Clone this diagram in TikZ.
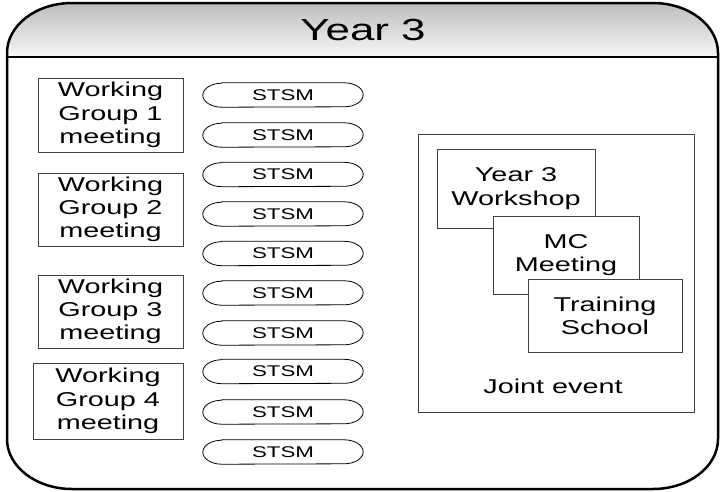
\documentclass[tikz,border=0pt]{standalone}
\usepackage{fontspec}
\setmainfont{Liberation Sans}[FakeStretch=1.44]
\usetikzlibrary{calc}

\begin{document}
\begin{tikzpicture}[x=1pt,y=1pt,
  box/.style={draw=black!75, line width=0.9pt, fill=white, align=center,
              inner sep=0pt, font=\fontsize{20}{23.3}\selectfont},
  pill/.style={inner sep=0pt, minimum width=160pt, minimum height=24pt,
               font=\fontsize{15.5}{18}\selectfont},
  pilledge/.style={draw=black, line width=0.8pt},
  frame/.style={draw=black, line width=2.5pt, line join=round},
]
\useasboundingbox (0,0) rectangle (721,-491);

% header band with grey gradient
\shade[top color=black!26, bottom color=black!3]
  (7,-57) -- (7,-53) arc[start angle=180,end angle=90,x radius=65,y radius=50]
  -- (653,-3) arc[start angle=90,end angle=0,x radius=65,y radius=50]
  -- (718,-57) -- cycle;
\draw[line width=2pt] (7,-57) -- (718,-57);

% outer container
\draw[frame]
  (7,-53) arc[start angle=180,end angle=90,x radius=65,y radius=50]
  -- (653,-3) arc[start angle=90,end angle=0,x radius=65,y radius=50]
  -- (718,-439) arc[start angle=0,end angle=-90,x radius=65,y radius=50]
  -- (72,-489) arc[start angle=270,end angle=180,x radius=65,y radius=50]
  -- cycle;

\node[font=\fontsize{30.5}{36}\selectfont] (title) at (363,-29.5) {Year 3};

% working group meetings
\node[box, minimum width=145pt, minimum height=74pt] (wg1) at (110.5,-115)   {Working\\Group 1\\meeting};
\node[box, minimum width=145pt, minimum height=73pt] (wg2) at (110.5,-209.5) {Working\\Group 2\\meeting};
\node[box, minimum width=145pt, minimum height=73pt] (wg3) at (110.5,-311.5) {Working\\Group 3\\meeting};
\node[box, minimum width=150pt, minimum height=76pt] (wg4) at (108,-401)     {Working\\Group 4\\meeting};

% short term scientific missions
\foreach \i/\y in {1/95,2/135,3/174.5,4/214,5/253.5,6/293,7/333,8/371.5,9/412,10/452} {
  \node[pill] (s\i) at (283,-\y) {STSM};
  \draw[pilledge]
    ($(s\i.north west)+(19,0)$) -- ($(s\i.north east)+(-19,0)$)
    arc[start angle=90,end angle=-90,x radius=19,y radius=12]
    -- ($(s\i.south west)+(19,0)$)
    arc[start angle=270,end angle=90,x radius=19,y radius=12] -- cycle;
}

% joint event
\node[box, minimum width=276pt, minimum height=278pt] (joint) at (556,-273) {};
\node[font=\fontsize{20}{23.3}\selectfont] (jointlbl) at (553,-386) {Joint event};
\node[box, minimum width=158pt, minimum height=79pt] (workshop) at (516,-188.5) {Year 3\\Workshop};
\node[box, minimum width=146pt, minimum height=78pt] (mc) at (566,-255) {MC\\Meeting};
\node[box, minimum width=154pt, minimum height=73pt] (school) at (605,-315.5) {Training\\School};
\end{tikzpicture}
\end{document}
